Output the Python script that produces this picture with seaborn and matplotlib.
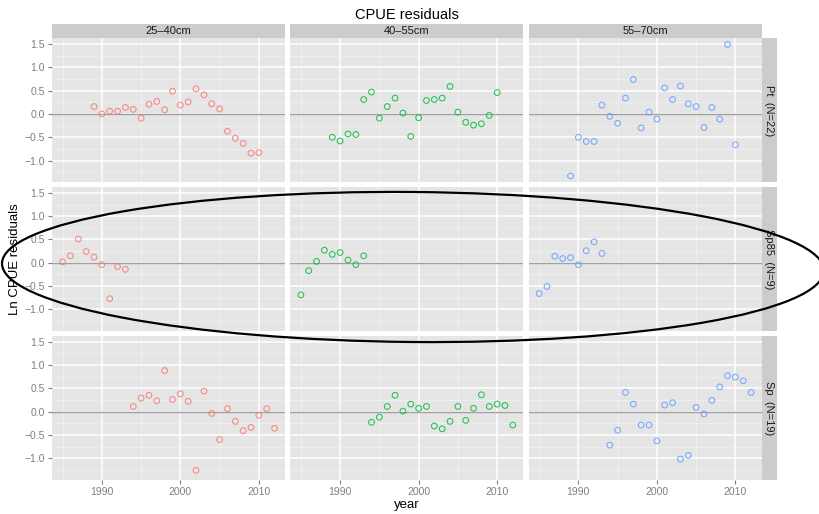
import numpy as np
import pandas as pd
import seaborn as sns
import matplotlib.pyplot as plt
from matplotlib.patches import Ellipse, Rectangle
from matplotlib.ticker import FixedLocator

# facet categories
sizes = ['25–40cm', '40–55cm', '55–70cm']
species = ['Pt  (N=22)', 'Sp85  (N=9)', 'Sp  (N=19)']
colors = ['#F8766D', '#00BA38', '#619CFF']

years_pt = list(range(1989, 2011))
years_sp85 = list(range(1985, 1994))
years_sp = list(range(1994, 2013))

# residuals
pt_25 = [0.16, 0.00, 0.06, 0.06, 0.14, 0.10, -0.09, 0.21, 0.27, 0.09, 0.49,
         0.19, 0.26, 0.54, 0.41, 0.22, 0.11, -0.37, -0.52, -0.63, -0.84, -0.83]
pt_40 = [-0.50, -0.58, -0.43, -0.44, 0.31, 0.47, -0.09, 0.16, 0.34, 0.02, -0.48,
         -0.08, 0.29, 0.31, 0.34, 0.59, 0.04, -0.18, -0.24, -0.21, -0.03, 0.46]
pt_55 = [-1.33, -0.50, -0.59, -0.59, 0.19, -0.05, -0.20, 0.34, 0.74, -0.30, 0.04,
         -0.11, 0.56, 0.31, 0.60, 0.22, 0.16, -0.29, 0.14, -0.11, 1.49, -0.66]
sp85_25 = [0.02, 0.15, 0.51, 0.24, 0.12, -0.04, -0.77, -0.08, -0.14]
sp85_40 = [-0.69, -0.17, 0.03, 0.27, 0.18, 0.22, 0.06, -0.04, 0.15]
sp85_55 = [-0.66, -0.51, 0.14, 0.09, 0.11, -0.04, 0.26, 0.45, 0.20]
sp_25 = [0.11, 0.29, 0.35, 0.23, 0.88, 0.26, 0.38, 0.22, -1.26, 0.44,
         -0.04, -0.60, 0.06, -0.21, -0.41, -0.34, -0.08, 0.06, -0.36]
sp_40 = [-0.23, -0.12, 0.11, 0.35, 0.01, 0.16, 0.07, 0.11, -0.31, -0.37,
         -0.21, 0.11, -0.19, 0.07, 0.36, 0.11, 0.16, 0.13, -0.29]
sp_55 = [-0.72, -0.40, 0.41, 0.16, -0.29, -0.29, -0.63, 0.14, 0.19, -1.02,
         -0.94, 0.09, -0.05, 0.24, 0.53, 0.77, 0.74, 0.66, 0.41]

series = [
    (species[0], sizes[0], years_pt, pt_25),
    (species[0], sizes[1], years_pt, pt_40),
    (species[0], sizes[2], years_pt, pt_55),
    (species[1], sizes[0], years_sp85, sp85_25),
    (species[1], sizes[1], years_sp85, sp85_40),
    (species[1], sizes[2], years_sp85, sp85_55),
    (species[2], sizes[0], years_sp, sp_25),
    (species[2], sizes[1], years_sp, sp_40),
    (species[2], sizes[2], years_sp, sp_55),
]
frames = []
for sp, sz, yrs, vals in series:
    frames.append(pd.DataFrame({'species': sp, 'size': sz, 'year': yrs, 'resid': vals}))
df = pd.concat(frames, ignore_index=True)

plt.rcParams['font.family'] = ['Liberation Sans', 'DejaVu Sans']

g = sns.FacetGrid(df, row='species', col='size', row_order=species, col_order=sizes,
                  hue='size', hue_order=sizes, palette=colors, despine=False,
                  height=1.5, aspect=1.6)


def draw_points(x, y, data=None, color=None, **kws):
    ax = plt.gca()
    ax.scatter(data[x], data[y], s=17, facecolors='none', edgecolors=color,
               linewidths=0.75, alpha=0.85, zorder=3)


g.map_dataframe(draw_points, 'year', 'resid')
g.set_titles('')
g.set_axis_labels('', '')

fig = g.figure
fig.set_size_inches(8.19, 5.14)
fig.subplots_adjust(left=0.0635, right=0.930, top=0.926, bottom=0.066,
                    wspace=0.022, hspace=0.03)

tick_grey = '#7F7F7F'
yt = [-1.0, -0.5, 0.0, 0.5, 1.0, 1.5]
for i in range(3):
    for j in range(3):
        ax = g.axes[i, j]
        ax.set_facecolor('#E5E5E5')
        for s in ax.spines.values():
            s.set_visible(False)
        ax.set_xlim(1983.65, 2013.35)
        ax.set_ylim(-1.47, 1.63)
        ax.xaxis.set_major_locator(FixedLocator([1990, 2000, 2010]))
        ax.xaxis.set_minor_locator(FixedLocator([1985, 1995, 2005]))
        ax.yaxis.set_major_locator(FixedLocator(yt))
        ax.yaxis.set_minor_locator(FixedLocator([-1.25, -0.75, -0.25, 0.25, 0.75, 1.25]))
        ax.set_axisbelow(True)
        ax.grid(which='major', color='white', lw=1.1)
        ax.grid(which='minor', color='#F2F2F2', lw=0.55)
        ax.axhline(0, color='#A0A0A0', lw=1.0, zorder=2)
        ax.tick_params(which='minor', length=0)
        ax.tick_params(which='major', length=3, width=0.8, color=tick_grey,
                       labelcolor=tick_grey, labelsize=7.5, pad=2)
        if j > 0:
            ax.tick_params(axis='y', length=0)
        else:
            ax.set_yticklabels([('%.1f' % v).replace('-', '\u2212') for v in yt])
        if i < 2:
            ax.tick_params(axis='x', length=0)

        # strips
        if i == 0:
            ax.add_patch(Rectangle((0, 1.0), 1, 0.098, transform=ax.transAxes,
                                   facecolor='#CCCCCC', edgecolor='none', clip_on=False))
            ax.text(0.5, 1.049, sizes[j], transform=ax.transAxes, ha='center',
                    va='center', fontsize=8, color='#1A1A1A')
        if j == 2:
            ax.add_patch(Rectangle((1.0, 0), 0.065, 1, transform=ax.transAxes,
                                   facecolor='#CCCCCC', edgecolor='none', clip_on=False))
            ax.text(1.0325, 0.5, species[i], transform=ax.transAxes, ha='center',
                    va='center', rotation=-90, fontsize=8, color='#1A1A1A')

fig.text(0.497, 0.970, 'CPUE residuals', ha='center', va='center', fontsize=10.5)
fig.text(0.497, 0.017, 'year', ha='center', va='center', fontsize=9.5)
fig.text(0.018, 0.495, 'Ln CPUE residuals', ha='center', va='center',
         rotation=90, fontsize=9.5)

# hand-drawn style highlight ellipse around the Sp85 row
ell = Ellipse((4.13, 2.47), 8.22, 1.50, angle=-0.5, transform=fig.dpi_scale_trans,
              facecolor='none', edgecolor='black', lw=1.6, zorder=10)
fig.add_artist(ell)

fig.savefig('out.png', dpi=100)
